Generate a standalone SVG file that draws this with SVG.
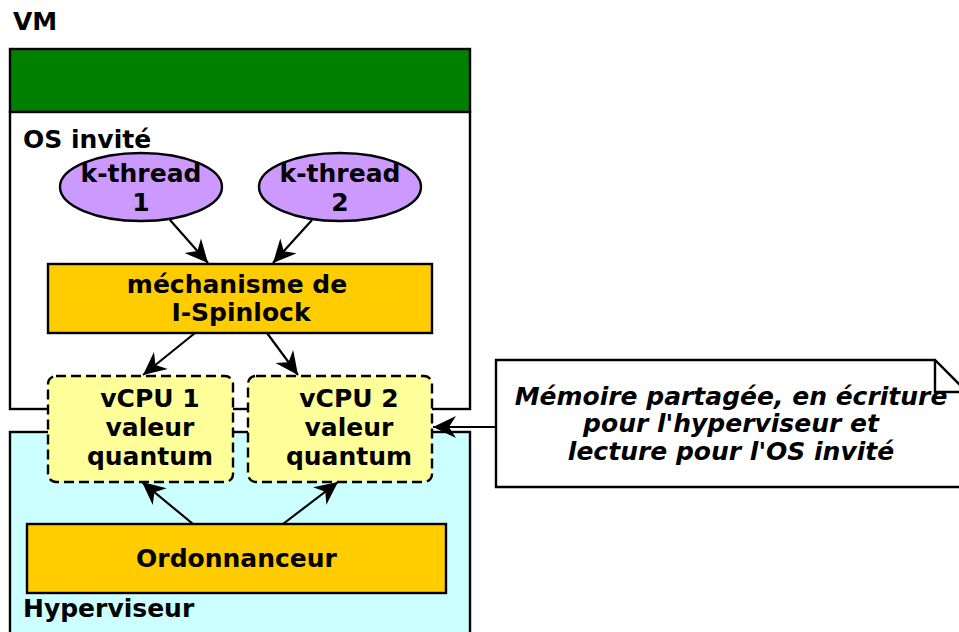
<svg xmlns="http://www.w3.org/2000/svg" width="959" height="632" viewBox="0 0 959 632">
<defs>
<style>
text{font-family:"DejaVu Sans","Liberation Sans",sans-serif;font-weight:bold;font-size:25px;fill:#000}
.c{text-anchor:middle}
.it{font-style:italic}
.box{stroke:#000;stroke-width:2.4}
.vcpu{fill:#ffff99;stroke:#000;stroke-width:2.4;stroke-dasharray:10,5}
.edge{stroke:#000;stroke-width:2.2;fill:none;marker-end:url(#ah)}
</style>
<marker id="ah" markerUnits="userSpaceOnUse" markerWidth="30" markerHeight="30" viewBox="-26 -13 30 26" refX="0" refY="0" orient="auto">
<path d="M0,0 L-23,-11 L-16,0 L-23,11 Z" fill="#000"/>
</marker>
</defs>
<text x="13" y="30">VM</text>
<g id="vm">
<rect class="box" x="10" y="49" width="460" height="63" fill="#008000"/>
</g>
<g id="os">
<rect class="box" x="10" y="112" width="460" height="297" fill="#fff"/>
<text x="23" y="148">OS invité</text>
</g>
<g id="hyperviseur">
<rect class="box" x="10" y="432" width="460" height="210" fill="#ccffff"/>
<text x="23" y="617">Hyperviseur</text>
</g>
<g id="kthread1">
<ellipse class="box" cx="141" cy="187" rx="81" ry="34" fill="#cc99ff"/>
<text class="c" x="141" y="182">k-thread</text>
<text class="c" x="141" y="211">1</text>
</g>
<g id="kthread2">
<ellipse class="box" cx="340" cy="187" rx="81" ry="34" fill="#cc99ff"/>
<text class="c" x="340" y="182">k-thread</text>
<text class="c" x="340" y="211">2</text>
</g>
<g id="spinlock">
<rect class="box" x="48" y="264" width="384" height="69" fill="#ffcc00"/>
<text class="c" x="237" y="293">méchanisme de</text>
<text class="c" x="241" y="321">I-Spinlock</text>
</g>
<g id="vcpu1">
<rect class="vcpu" x="48" y="376" width="185" height="106" rx="8"/>
<text class="c" x="150" y="407">vCPU 1</text>
<text class="c" x="150" y="436">valeur</text>
<text class="c" x="150" y="465">quantum</text>
</g>
<g id="vcpu2">
<rect class="vcpu" x="248" y="376" width="184" height="106" rx="8"/>
<text class="c" x="349" y="407">vCPU 2</text>
<text class="c" x="349" y="436">valeur</text>
<text class="c" x="349" y="465">quantum</text>
</g>
<g id="ordonnanceur">
<rect class="box" x="27" y="524" width="419" height="69" fill="#ffcc00"/>
<text class="c" x="236.5" y="567">Ordonnanceur</text>
</g>
<g id="note">
<path class="box" d="M496,360 L935,360 L967,392 L967,487 L496,487 Z" fill="#fff"/>
<path class="box" d="M935,360 L935,392 L967,392" fill="none"/>
<text class="c it" x="731" y="405">Mémoire partagée, en écriture</text>
<text class="c it" x="731" y="432">pour l'hyperviseur et</text>
<text class="c it" x="731" y="460">lecture pour l'OS invité</text>
</g>
<g id="connectors">
<path class="edge" d="M170,220 L208,263"/>
<path class="edge" d="M312,220 L273,263"/>
<path class="edge" d="M195,333 L143,375"/>
<path class="edge" d="M267,333 L298,375"/>
<path class="edge" d="M193,524 L142,482"/>
<path class="edge" d="M283,524 L338,482"/>
<path class="edge" d="M496,427 L433,427"/>
</g>
</svg>
